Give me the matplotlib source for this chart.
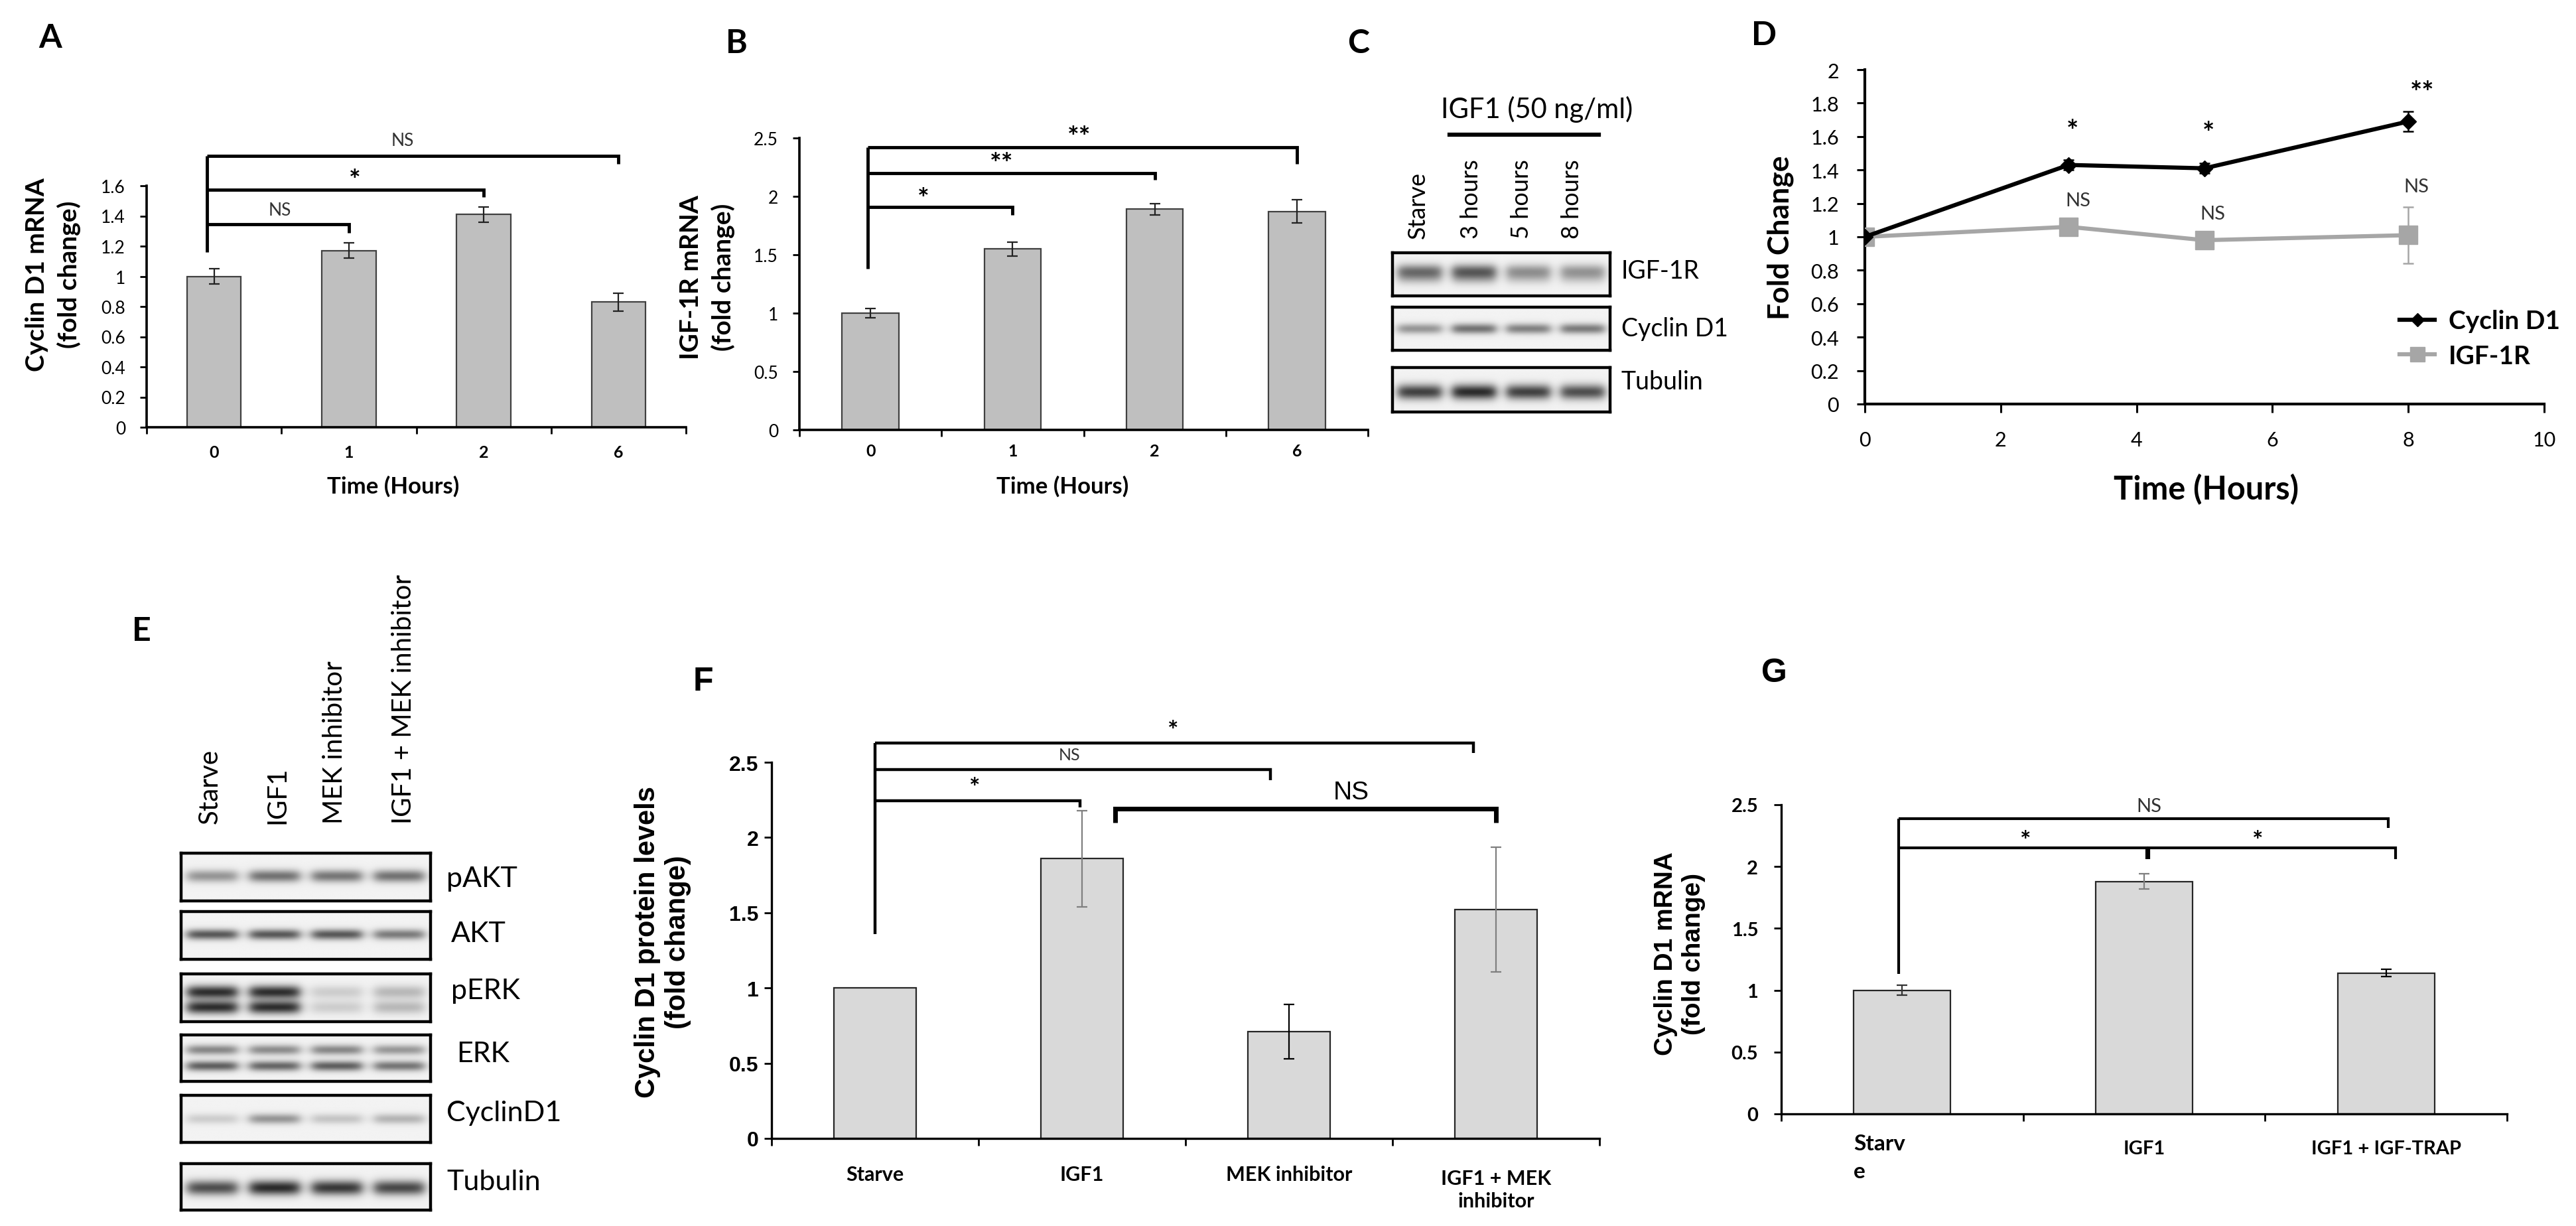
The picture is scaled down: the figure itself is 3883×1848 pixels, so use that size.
import numpy as np
import matplotlib
matplotlib.use('Agg')
import matplotlib.pyplot as plt
import matplotlib.transforms as mtransforms

plt.rcParams['font.family'] = ['Lato', 'DejaVu Sans']

# ---------------- data ----------------
A_cats = ['0', '1', '2', '6']
A_vals = [1.00, 1.17, 1.41, 0.83]
A_errs = [0.05, 0.05, 0.05, 0.06]

B_cats = ['0', '1', '2', '6']
B_vals = [1.00, 1.55, 1.89, 1.87]
B_errs = [0.04, 0.06, 0.05, 0.10]

C_lanes = ['Starve', '3 hours', '5 hours', '8 hours']
C_proteins = ['IGF-1R', 'Cyclin D1', 'Tubulin']
C_IGF1R = [0.55, 0.62, 0.40, 0.38]
C_CyclinD1 = [0.45, 0.62, 0.55, 0.58]
C_Tubulin = [0.78, 0.88, 0.78, 0.72]

D_time = [0, 3, 5, 8]
D_cyclin = [1.00, 1.43, 1.41, 1.69]
D_cyclin_err = [0.02, 0.03, 0.03, 0.06]
D_igf1r = [1.00, 1.06, 0.98, 1.01]
D_igf1r_err = [0.03, 0.03, 0.02, 0.17]
D_cyclin_sig = ['', '*', '*', '**']
D_igf1r_sig = ['', 'NS', 'NS', 'NS']

E_lanes = ['Starve', 'IGF1', 'MEK inhibitor', 'IGF1 + MEK inhibitor']
E_proteins = ['pAKT', 'AKT', 'pERK', 'ERK', 'CyclinD1', 'Tubulin']
E_pAKT = [0.45, 0.62, 0.60, 0.62]
E_AKT = [0.75, 0.75, 0.75, 0.58]
E_pERK = [0.95, 0.95, 0.18, 0.28]
E_ERK = [0.65, 0.62, 0.65, 0.55]
E_CyclinD1 = [0.18, 0.45, 0.22, 0.30]
E_Tubulin = [0.72, 0.88, 0.82, 0.75]

F_cats = ['Starve', 'IGF1', 'MEK inhibitor', 'IGF1 + MEK\ninhibitor']
F_vals = [1.00, 1.86, 0.71, 1.52]
F_errs = [0.0, 0.32, 0.18, 0.415]

G_cats = ['Starv\ne', 'IGF1', 'IGF1 + IGF-TRAP']
G_vals = [1.00, 1.88, 1.14]
G_errs = [0.04, 0.06, 0.03]

# significance brackets: (end category, line height, drop height, label, label x, label y)
A_sig = [(3, 1.80, 1.745, 'NS', 1.40, 1.90),
         (2, 1.575, 1.525, '*', 1.045, 1.63),
         (1, 1.345, 1.29, 'NS', 0.49, 1.44)]
B_sig = [(3, 2.42, 2.28, '**', 1.47, 2.50),
         (2, 2.20, 2.14, '**', 0.92, 2.27),
         (1, 1.91, 1.84, '*', 0.37, 1.97)]
F_sig = [(2.89, 2.63, 2.56, '*', 1.44, 2.71),
         (1.91, 2.45, 2.38, 'NS', 0.94, 2.55),
         (0.99, 2.245, 2.20, '*', 0.48, 2.33)]
G_sig = [(2.01, 2.39, 2.31, 'NS', 1.02, 2.49),
         (1.01, 2.15, 2.06, '*', 0.51, 2.21)]

# ---------------- figure ----------------
W, H = 3883, 1849
fig = plt.figure(figsize=(W / 100, H / 100), dpi=100)
fig.patch.set_facecolor('white')

ARIAL = ['Liberation Sans', 'DejaVu Sans']


def add_ax(x0, x1, ytop, ybot):
    return fig.add_axes([x0 / W, 1 - ybot / H, (x1 - x0) / W, (ybot - ytop) / H])


def ftext(x, y, s, **kw):
    kw.setdefault('ha', 'center')
    kw.setdefault('va', 'center')
    return fig.text(x / W, 1 - y / H, s, **kw)


def style_axes(ax, lw=2.5, tlen=7, tw=2.0):
    for s in ['top', 'right']:
        ax.spines[s].set_visible(False)
    for s in ['left', 'bottom']:
        ax.spines[s].set_linewidth(lw)
        ax.spines[s].set_color('black')
    ax.tick_params(direction='out', length=tlen, width=tw, color='black')
    ax.patch.set_alpha(0)


def bar_panel(ax, vals, errs, face, edge, ecols, ylim, yticks, ytick_kw, ypad, tlen):
    n = len(vals)
    x = np.arange(n)
    ax.bar(x, vals, width=0.40, color=face, edgecolor=edge, linewidth=1.6, zorder=2)
    for i in range(n):
        if errs[i] > 0:
            ax.errorbar(x[i], vals[i], yerr=errs[i], fmt='none', ecolor=ecols[i],
                        elinewidth=1.6, capsize=6, capthick=1.6, zorder=3)
    ax.set_xlim(-0.5, n - 0.5)
    ax.set_ylim(*ylim)
    ax.set_xticks(np.arange(n + 1) - 0.5)
    ax.set_xticklabels([])
    ax.set_yticks(yticks)
    ax.set_yticklabels([f'{v:g}' for v in yticks], **ytick_kw)
    ax.tick_params(axis='y', pad=ypad)
    ax.tick_params(axis='x', length=tlen)


def cat_labels(ax, cats, dy_px, skip=(), **kw):
    trans = mtransforms.offset_copy(ax.get_xaxis_transform(), fig=fig, y=-dy_px, units='dots')
    for i, c in enumerate(cats):
        if i in skip:
            continue
        ax.text(i, 0, c, transform=trans, ha='center', va='center', **kw)


def sig_brackets(ax, x_root, y_root, sigs, lw, lab_kw_list):
    top = max(s[1] for s in sigs)
    ax.plot([x_root, x_root], [y_root, top], color='black', lw=lw, clip_on=False,
            solid_capstyle='butt', zorder=4)
    for (x1, y, yd, lab, lx, ly), lkw in zip(sigs, lab_kw_list):
        ax.plot([x_root, x1, x1], [y, y, yd], color='black', lw=lw, clip_on=False,
                solid_joinstyle='miter', solid_capstyle='butt', zorder=4)
        ax.text(lx, ly, lab, ha='center', va='center', clip_on=False, **lkw)


def draw_blot(ax, intens, bands, sig_y, lane_w=0.80, dark=0.85, bg=0.95):
    n = len(intens)
    xs = np.linspace(0, n, 700)
    ys = np.linspace(0, 1, 160)
    X, Y = np.meshgrid(xs, ys)
    dens = np.zeros_like(X)
    for i, a in enumerate(intens):
        lx = 1.0 / (1.0 + np.exp((np.abs(X - (i + 0.5)) - lane_w / 2) / 0.05))
        ly = np.zeros_like(Y)
        for yc, amp in bands:
            ly = ly + amp * np.exp(-((Y - yc) / sig_y) ** 2)
        dens = dens + a * lx * ly
    img = bg * (1 - dark * np.clip(dens, 0, 1))
    ax.imshow(img, cmap='gray', vmin=0, vmax=1, extent=(0, n, 0, 1), origin='lower',
              aspect='auto', interpolation='bilinear')
    ax.set_xticks([])
    ax.set_yticks([])
    for s in ax.spines.values():
        s.set_linewidth(3.2)
        s.set_color('black')


NS_KW = dict(fontsize=19, color='#333333')
STAR_KW = dict(fontsize=30, fontweight='bold')

# ---------------- Panel A ----------------
axA = add_ax(221, 1034, 281, 645)
style_axes(axA, lw=2.6, tlen=7, tw=2.0)
bar_panel(axA, A_vals, A_errs, '#BFBFBF', '#404040', ['#222222'] * 4, (0, 1.6),
          np.round(np.arange(0, 1.61, 0.2), 1), dict(fontsize=19), 16, 7)
cat_labels(axA, A_cats, 38, fontsize=18, fontweight='bold')
sig_brackets(axA, -0.05, 1.16, A_sig, 3.5, [NS_KW, STAR_KW, NS_KW])
ftext(80, 414, 'Cyclin D1 mRNA\n(fold change)', rotation=90, fontsize=28,
      fontweight='bold', linespacing=1.45)
ftext(593, 733, 'Time (Hours)', fontsize=25, fontweight='bold')
ftext(76, 58, 'A', fontsize=36, fontweight='bold')

# ---------------- Panel B ----------------
axB = add_ax(1205, 2062, 209, 649)
style_axes(axB, lw=2.6, tlen=7, tw=2.0)
bar_panel(axB, B_vals, B_errs, '#BFBFBF', '#404040', ['#222222'] * 4, (0, 2.5),
          np.round(np.arange(0, 2.51, 0.5), 1), dict(fontsize=19), 16, 7)
cat_labels(axB, B_cats, 31, fontsize=18, fontweight='bold')
sig_brackets(axB, -0.02, 1.38, B_sig, 3.5, [STAR_KW] * 3)
ftext(1066, 418, 'IGF-1R mRNA\n(fold change)', rotation=90, fontsize=28,
      fontweight='bold', linespacing=1.45)
ftext(1602, 733, 'Time (Hours)', fontsize=25, fontweight='bold')
ftext(1110, 65, 'B', fontsize=36, fontweight='bold')

# ---------------- Panel C (blot) ----------------
C_boxes = [(382, 447), (464, 529), (555, 622)]
C_data = [C_IGF1R, C_CyclinD1, C_Tubulin]
C_bands = [[(0.58, 1.0), (0.42, 0.5)], [(0.5, 1.0)], [(0.45, 1.1)]]
C_sig = [0.16, 0.12, 0.17]
C_labely = [409, 496, 576]
for (yt, yb), dat, bnd, sg, name, ly in zip(C_boxes, C_data, C_bands, C_sig, C_proteins, C_labely):
    axc = add_ax(2099, 2427, yt, yb)
    draw_blot(axc, dat, bnd, sg)
    ftext(2444, ly, name, ha='left', fontsize=27)
C_lane_x = [2137, 2217, 2293, 2370]
for lx, lab in zip(C_lane_x, C_lanes):
    ftext(lx, 360, lab, rotation=90, va='bottom', fontsize=26)
ftext(2317, 165, 'IGF1 (50 ng/ml)', fontsize=30)
fig.add_artist(plt.Line2D([2185 / W, 2410 / W], [1 - 204 / H, 1 - 204 / H],
                          color='black', lw=4.5))
ftext(2048, 65, 'C', fontsize=36, fontweight='bold')

# ---------------- Panel D ----------------
axD = add_ax(2811, 3835, 106, 610)
style_axes(axD, lw=3.0, tlen=9, tw=2.2)
axD.errorbar(D_time, D_igf1r, yerr=D_igf1r_err, fmt='none', ecolor='#A6A6A6',
             elinewidth=1.8, capsize=6, capthick=1.8, zorder=2)
axD.errorbar(D_time, D_cyclin, yerr=D_cyclin_err, fmt='none', ecolor='black',
             elinewidth=1.8, capsize=6, capthick=1.8, zorder=2)
lI, = axD.plot(D_time, D_igf1r, color='#A6A6A6', lw=4.5, marker='s', ms=19.5,
               mec='#A6A6A6', mfc='#A6A6A6', label='IGF-1R', zorder=3)
lC, = axD.plot(D_time, D_cyclin, color='black', lw=4.5, marker='D', ms=12.5,
               label='Cyclin D1', zorder=4)
axD.set_xlim(0, 10)
axD.set_ylim(0, 2)
axD.set_xticks(np.arange(0, 11, 2))
axD.set_xticklabels([f'{v}' for v in range(0, 11, 2)], fontsize=22)
yt = np.round(np.arange(0, 2.01, 0.2), 1)
axD.set_yticks(yt)
axD.set_yticklabels([f'{v:g}' for v in yt], fontsize=22)
axD.tick_params(axis='y', pad=19)
axD.tick_params(axis='x', pad=20)
D_star_dx = [0, 0.06, 0.06, 0.2]
D_star_y = [0, 1.63, 1.62, 1.86]
D_ns_dx = [0, 0.14, 0.12, 0.12]
D_ns_y = [0, 1.22, 1.14, 1.30]
for i, t in enumerate(D_time):
    if D_cyclin_sig[i]:
        axD.text(t + D_star_dx[i], D_star_y[i], D_cyclin_sig[i], ha='center', va='center',
                 fontsize=31, fontweight='bold')
    if D_igf1r_sig[i]:
        axD.text(t + D_ns_dx[i], D_ns_y[i], D_igf1r_sig[i], ha='center', va='center',
                 fontsize=21, color='#333333')
leg = axD.legend(handles=[lC, lI], loc='upper left', bbox_to_anchor=(3598 / W, 1 - 448 / H),
                 bbox_transform=fig.transFigure, frameon=False, borderpad=0,
                 handlelength=1.35, handletextpad=0.55, labelspacing=0.45,
                 prop=dict(size=28, weight='bold'), markerscale=0.8)
ftext(2684, 358, 'Fold Change', rotation=90, fontsize=32, fontweight='bold')
ftext(3325, 738, 'Time (Hours)', fontsize=35, fontweight='bold')
ftext(2659, 54, 'D', fontsize=36, fontweight='bold')

# ---------------- Panel E (blot) ----------------
E_boxes = [(1287, 1359), (1375, 1447), (1469, 1541), (1561, 1631), (1652, 1723), (1755, 1825)]
E_data = [E_pAKT, E_AKT, E_pERK, E_ERK, E_CyclinD1, E_Tubulin]
E_bands = [[(0.52, 1.0)], [(0.52, 1.0)], [(0.62, 1.0), (0.30, 1.0)],
           [(0.68, 0.8), (0.33, 1.1)], [(0.50, 1.0)], [(0.48, 1.1)]]
E_sig = [0.13, 0.11, 0.14, 0.11, 0.11, 0.16]
E_labely = [1325, 1408, 1494, 1589, 1678, 1782]
E_labelx = [673, 680, 680, 688, 673, 673]
for (yt_, yb_), dat, bnd, sg, name, ly, lx in zip(E_boxes, E_data, E_bands, E_sig,
                                                 E_proteins, E_labely, E_labelx):
    axe = add_ax(273, 649, yt_, yb_)
    draw_blot(axe, dat, bnd, sg)
    ftext(lx, ly, name, ha='left', fontsize=31)
E_lane_x = [316, 418, 504, 608]
for lx, lab in zip(E_lane_x, E_lanes):
    ftext(lx, 1242, lab, rotation=90, va='bottom', fontsize=29)
ftext(213, 952, 'E', fontsize=36, fontweight='bold')

# ---------------- Panel F ----------------
axF = add_ax(1163, 2411, 1150, 1717)
style_axes(axF, lw=2.4, tlen=8, tw=2.0)
bar_panel(axF, F_vals, F_errs, '#D9D9D9', '#262626', ['black', '#7F7F7F', 'black', '#7F7F7F'],
          (0, 2.5), np.round(np.arange(0, 2.51, 0.5), 1),
          dict(fontsize=23, fontweight='bold', family=ARIAL), 6, 8)
cat_labels(axF, F_cats[:3], 54, fontsize=22, fontweight='bold')
trF = mtransforms.offset_copy(axF.get_xaxis_transform(), fig=fig, y=-77, units='dots')
axF.text(3, 0, F_cats[3], transform=trF, ha='center', va='center', fontsize=22,
         fontweight='bold', linespacing=1.25)
sig_brackets(axF, 0.0, 1.36, F_sig, 3.2,
             [dict(fontsize=28, fontweight='bold'), dict(fontsize=18, color='#333333'),
              dict(fontsize=28, fontweight='bold')])
axF.plot([1.16, 1.16, 3.0, 3.0], [2.10, 2.19, 2.19, 2.10], color='black', lw=5.0,
         clip_on=False, solid_joinstyle='miter', solid_capstyle='butt')
axF.text(2.30, 2.30, 'NS', ha='center', va='center', fontsize=28, family=ARIAL)
ftext(999, 1420, 'Cyclin D1 protein levels\n(fold change)', rotation=90, fontsize=30,
      fontweight='bold', family=ARIAL, linespacing=1.2)
ftext(1060, 1028, 'F', fontsize=36, fontweight='bold', family=ARIAL)

# ---------------- Panel G ----------------
axG = add_ax(2685, 3779, 1214, 1680)
style_axes(axG, lw=2.4, tlen=8, tw=2.0)
bar_panel(axG, G_vals, G_errs, '#D9D9D9', '#262626', ['#333333', '#7F7F7F', 'black'],
          (0, 2.5), np.round(np.arange(0, 2.51, 0.5), 1),
          dict(fontsize=21, fontweight='bold'), 17, 8)
cat_labels(axG, G_cats, 52, skip=(0,), fontsize=21, fontweight='bold')
trG = mtransforms.offset_copy(axG.get_xaxis_transform(), fig=fig, y=-30, units='dots')
axG.text(-0.2, 0, G_cats[0], transform=trG, ha='left', va='top', fontsize=24,
         fontweight='bold', linespacing=1.55)
sig_brackets(axG, -0.015, 1.13, G_sig, 3.0,
             [dict(fontsize=21, color='#333333'), dict(fontsize=28, fontweight='bold')])
axG.plot([1.02, 1.02, 2.04, 2.04], [2.06, 2.15, 2.15, 2.06], color='black', lw=3.0,
         clip_on=False, solid_joinstyle='miter', solid_capstyle='butt')
axG.text(1.47, 2.21, '*', ha='center', va='center', fontsize=28, fontweight='bold')
ftext(2532, 1438, 'Cyclin D1 mRNA\n(fold change)', rotation=90, fontsize=28,
      fontweight='bold', family=ARIAL, linespacing=1.2)
ftext(2674, 1015, 'G', fontsize=36, fontweight='bold', family=ARIAL)

fig.savefig('out.png', dpi=100, facecolor='white')
